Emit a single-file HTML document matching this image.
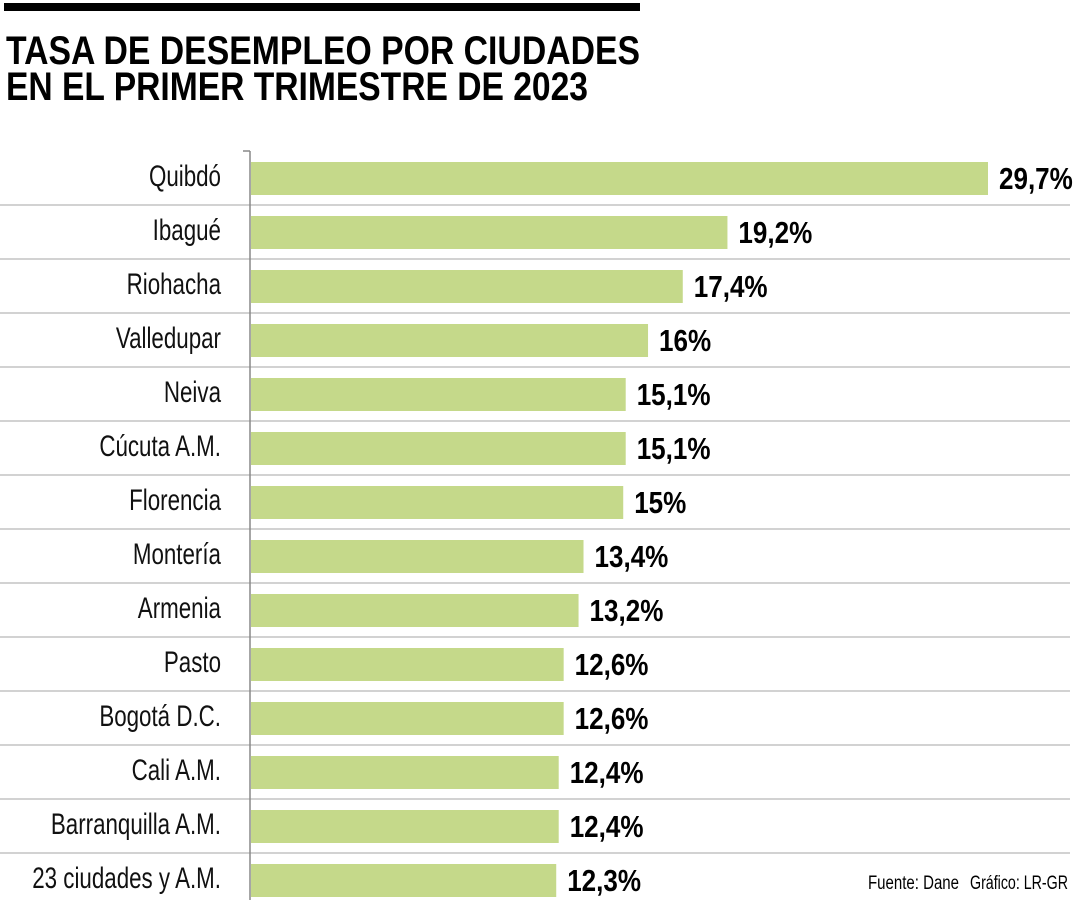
<!DOCTYPE html>
<html><head><meta charset="utf-8"><style>
html,body{margin:0;padding:0;background:#fff;}
svg{display:block;font-family:"Liberation Sans",sans-serif;}
</style></head><body>
<svg id="chart" width="1080" height="900" viewBox="0 0 1080 900">
<rect x="4" y="3" width="636" height="8" fill="#000"/>
<text x="6" y="64" font-size="40" font-weight="bold" textLength="634" lengthAdjust="spacingAndGlyphs">TASA DE DESEMPLEO POR CIUDADES</text>
<text x="6" y="100" font-size="40" font-weight="bold" textLength="582" lengthAdjust="spacingAndGlyphs">EN EL PRIMER TRIMESTRE DE 2023</text>
<g id="plot"></g>
<text x="868" y="889" font-size="19" textLength="91" lengthAdjust="spacingAndGlyphs">Fuente: Dane</text>
<text x="970" y="889" font-size="19" textLength="98" lengthAdjust="spacingAndGlyphs">Gráfico: LR-GR</text>
</svg>
<script>
const categories=["Quibdó","Ibagué","Riohacha","Valledupar","Neiva","Cúcuta A.M.","Florencia","Montería","Armenia","Pasto","Bogotá D.C.","Cali A.M.","Barranquilla A.M.","23 ciudades y A.M."];
const values=[29.7,19.2,17.4,16,15.1,15.1,15,13.4,13.2,12.6,12.6,12.4,12.4,12.3];
const valueLabels=["29,7%","19,2%","17,4%","16%","15,1%","15,1%","15%","13,4%","13,2%","12,6%","12,6%","12,4%","12,4%","12,3%"];
const NS="http://www.w3.org/2000/svg";
const g=document.getElementById('plot');
const x0=251, pxPerUnit=(988-251)/29.7, top0=151, rowH=54;
const xScale=v=>x0+v*pxPerUnit;
const yRow=i=>top0+i*rowH;
function mk(tag,attrs){const e=document.createElementNS(NS,tag);for(const k in attrs)e.setAttribute(k,attrs[k]);g.appendChild(e);return e;}
categories.forEach((c,i)=>{
  const y=yRow(i);
  if(i<categories.length-1){
    const ln=mk('line',{x1:0,x2:1070,y1:y+rowH,y2:y+rowH,stroke:'#c4c4c4','stroke-width':1.5});
    
    
  }
  const b=mk('rect',{x:x0,y:y+11,width:xScale(values[i])-x0,height:33,fill:'#c5d98a'});
  
  
  const sl=0.745;
  const t=mk('text',{x:221/sl,y:y+35,'font-size':30,'text-anchor':'end',fill:'#111',transform:'scale('+sl+',1)'});
  t.textContent=c;
  
  
  const sv=0.84;
  const v=mk('text',{x:(xScale(values[i])+11)/sv,y:y+38,'font-size':31,'font-weight':'bold',fill:'#000',transform:'scale('+sv+',1)'});
  v.textContent=valueLabels[i];
  
  
});
const ax=mk('line',{x1:250,x2:250,y1:151,y2:900,stroke:'#888','stroke-width':1.5});


const tk=mk('line',{x1:243,x2:250,y1:151,y2:151,stroke:'#888','stroke-width':1.5});


</script>
</body></html>
